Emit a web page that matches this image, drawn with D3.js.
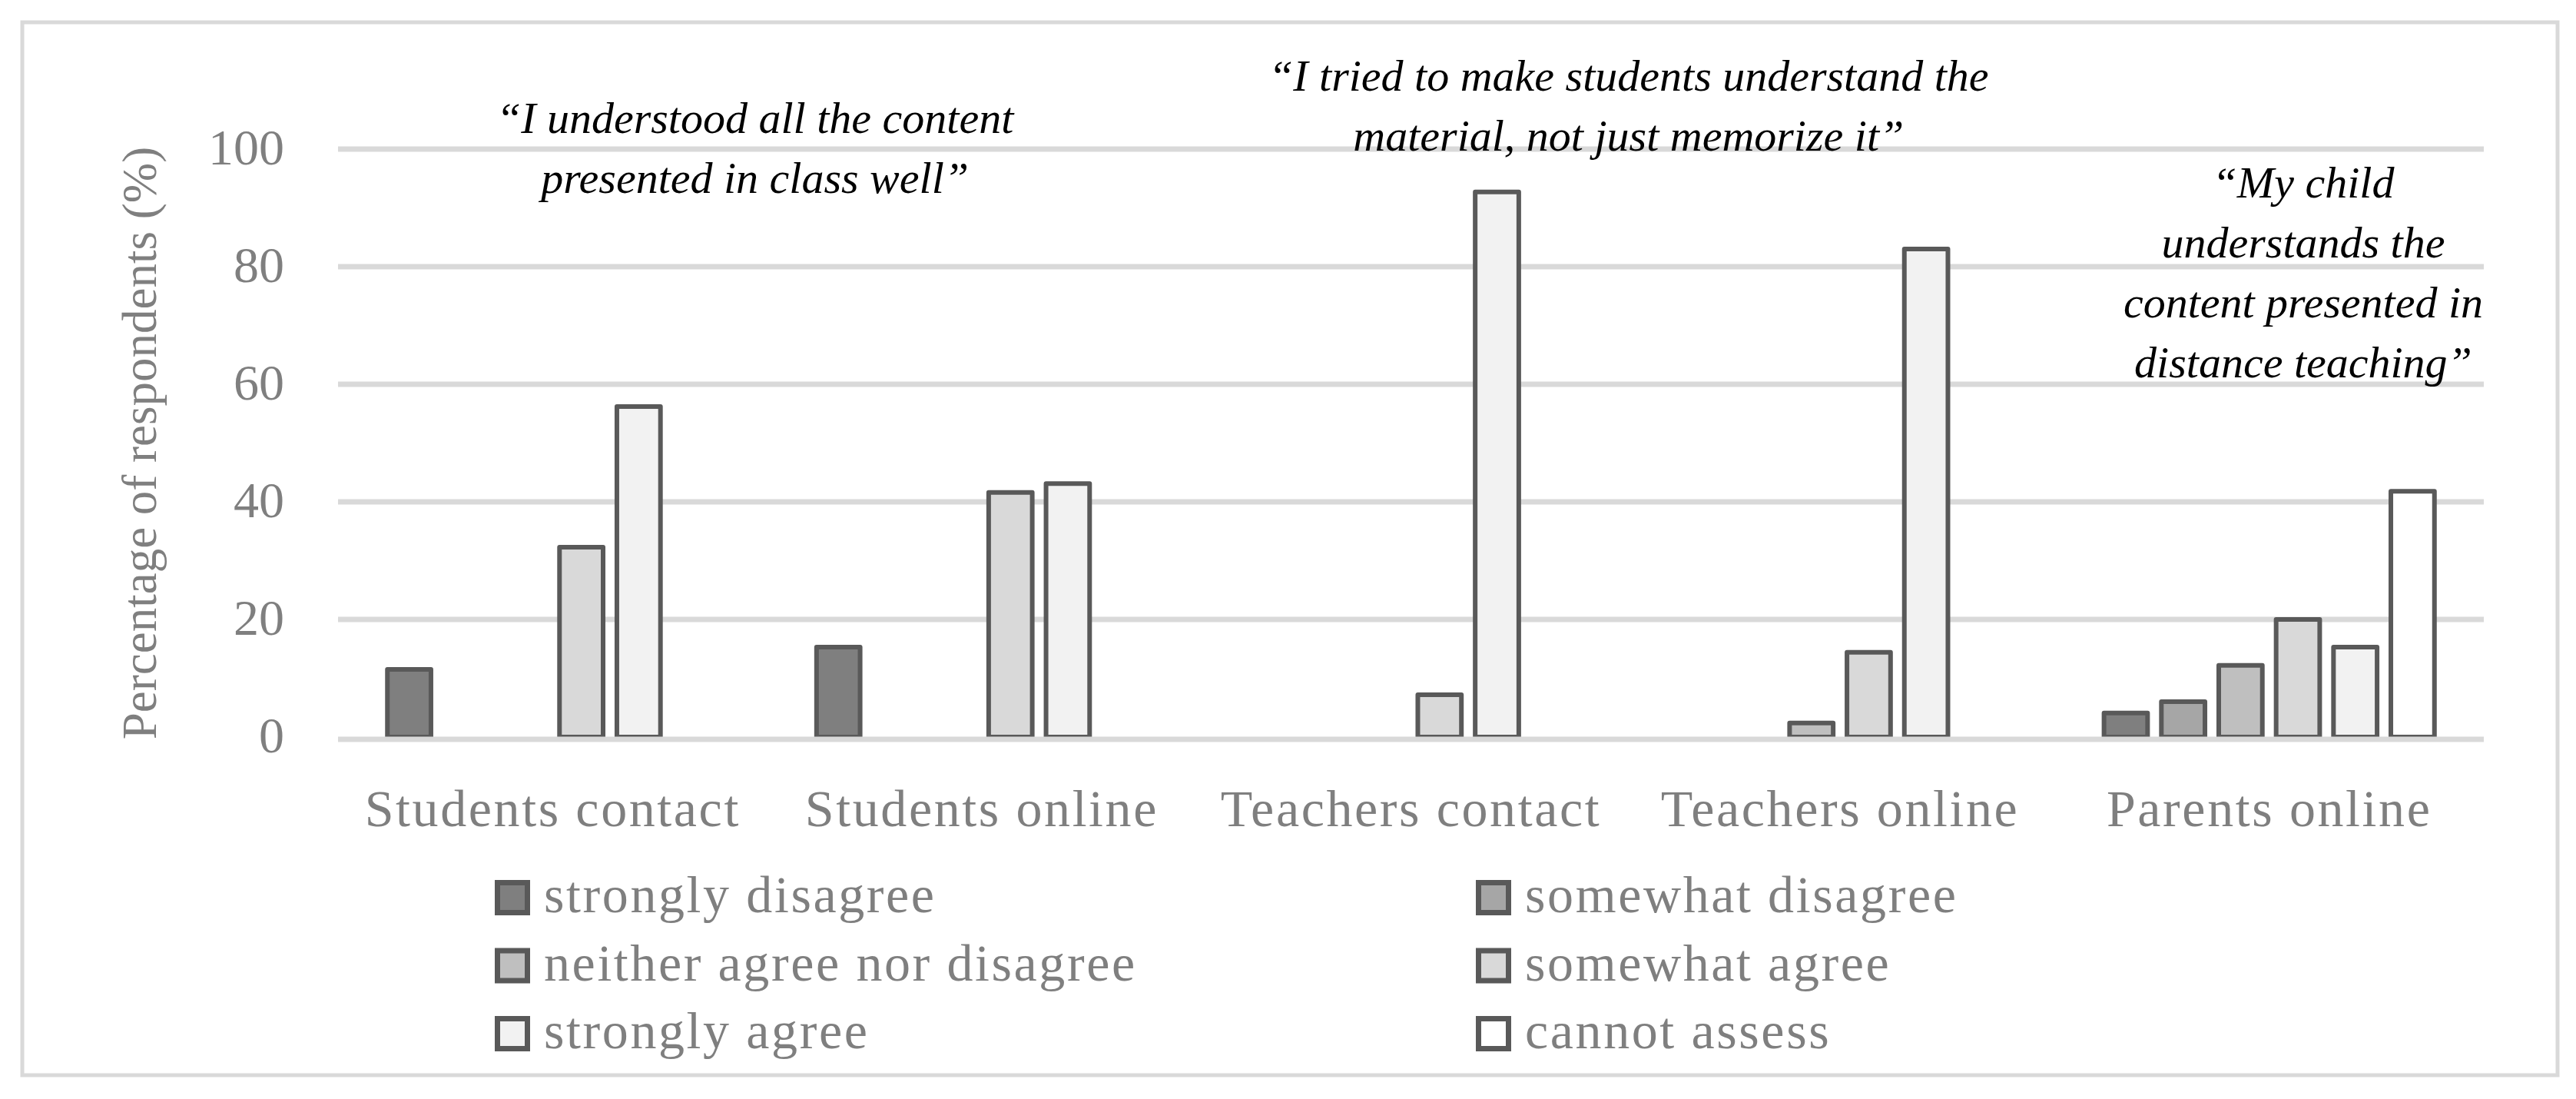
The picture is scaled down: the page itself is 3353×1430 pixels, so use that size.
<!DOCTYPE html>
<html>
<head>
<meta charset="utf-8">
<title>Understanding of content</title>
<script src="https://cdn.jsdelivr.net/npm/d3@7"></script>
<style>
	body { margin: 0; background: #fff; }
	.gray { fill: #7f7f7f; font-family: "Liberation Serif", serif; }
	.wide { letter-spacing: 2.6px; }
	.quote { fill: #000; font-family: "Liberation Serif", serif; font-style: italic; font-size: 58px; }
</style>
</head>
<body>
<script>
//chart data
var groups = ["Students contact", "Students online", "Teachers contact", "Teachers online", "Parents online"];
var answers = ["strongly disagree", "somewhat disagree", "neither agree nor disagree", "somewhat agree", "strongly agree", "cannot assess"];
var stronglyDisagree = [11.5, 15.3, 0, 0, 4.1];
var somewhatDisagree = [0, 0, 0, 0, 6.0];
var neitherAgree = [0, 0, 0, 2.4, 12.2];
var somewhatAgree = [32.3, 41.6, 7.2, 14.4, 20.0];
var stronglyAgree = [56.2, 43.1, 92.7, 83.0, 15.3];
var cannotAssess = [0, 0, 0, 0, 41.8];
var yTicks = [0, 20, 40, 60, 80, 100];
var quotes = [
	["\u201CI understood all the content", "presented in class well\u201D"],
	["\u201CI tried to make students understand the", "material, not just memorize it\u201D"],
	["\u201CMy child", "understands the", "content presented in", "distance teaching\u201D"]
];

window.onload = function(){
	var w = 3353, h = 1430;
	var seriesValues = [stronglyDisagree, somewhatDisagree, neitherAgree, somewhatAgree, stronglyAgree, cannotAssess];
	var fills = ["#7f7f7f", "#a6a6a6", "#bfbfbf", "#d9d9d9", "#f2f2f2", "#ffffff"];

	var svg = d3.select("body")
		.append("svg")
		.attr("width", w)
		.attr("height", h);

	//outer frame
	svg.append("rect")
		.attr("x", 29).attr("y", 29)
		.attr("width", 3300).attr("height", 1370)
		.style("fill", "#fff")
		.style("stroke", "#d9d9d9")
		.style("stroke-width", 5);

	//scales
	var x0 = d3.scaleBand()
		.domain(groups)
		.range([440, 3233]);
	var x1 = d3.scaleBand()
		.domain(answers)
		.range([0, x0.bandwidth()])
		.paddingInner(0.16)
		.paddingOuter(0.82);
	var y = d3.scaleLinear()
		.domain([0, 100])
		.range([959, 194]);

	//gridlines (all but zero, which goes over the bars)
	svg.selectAll(".grid")
		.data(yTicks.filter(function(d){ return d > 0; }))
		.enter()
		.append("line")
		.attr("class", "grid")
		.attr("x1", 440).attr("x2", 3233)
		.attr("y1", function(d){ return y(d); })
		.attr("y2", function(d){ return y(d); })
		.style("stroke", "#d9d9d9")
		.style("stroke-width", 7);

	//y axis labels
	var yAxis = d3.axisLeft(y).tickValues(yTicks).tickSize(0).tickPadding(0);
	var axis = svg.append("g")
		.attr("transform", "translate(370,0)")
		.call(yAxis);
	axis.select(".domain").remove();
	axis.selectAll("text")
		.attr("class", "gray")
		.attr("dy", "0.3em")
		.style("font-size", "66px");

	//y axis title
	svg.append("text")
		.attr("class", "gray")
		.attr("text-anchor", "middle")
		.attr("transform", "translate(203," + ((y(0) + y(100)) / 2) + ") rotate(-90)")
		.style("font-size", "63px")
		.text("Percentage of respondents (%)");

	//bars, one rect per non-zero answer share
	var cells = [];
	seriesValues.forEach(function(vals, s){
		vals.forEach(function(v, g){
			if (v > 0) cells.push({group: groups[g], answer: answers[s], value: v, fill: fills[s]});
		});
	});
	svg.selectAll(".bar")
		.data(cells)
		.enter()
		.append("rect")
		.attr("class", "bar")
		.attr("x", function(d){ return x0(d.group) + x1(d.answer) + 3; })
		.attr("width", x1.bandwidth() - 6)
		.attr("y", function(d){ return y(d.value); })
		.attr("height", function(d){ return y(0) - y(d.value); })
		.style("fill", function(d){ return d.fill; })
		.style("stroke", "#595959")
		.style("stroke-width", 6)
		.style("stroke-linejoin", "round");

	//zero line on top of the bars
	svg.append("line")
		.attr("x1", 440).attr("x2", 3233)
		.attr("y1", y(0) + 3).attr("y2", y(0) + 3)
		.style("stroke", "#d9d9d9")
		.style("stroke-width", 7);

	//category labels
	svg.selectAll(".catLabel")
		.data(groups)
		.enter()
		.append("text")
		.attr("class", "gray wide")
		.attr("text-anchor", "middle")
		.attr("x", function(d){ return x0(d) + x0.bandwidth() / 2; })
		.attr("y", 1075)
		.style("font-size", "68px")
		.text(function(d){ return d; });

	//legend, two columns by three rows
	var legend = svg.selectAll(".legend")
		.data(answers)
		.enter()
		.append("g")
		.attr("class", "legend")
		.attr("transform", function(d, i){
			var col = i % 2, row = Math.floor(i / 2);
			return "translate(" + (644 + col * 1277) + "," + (1145 + row * 88.5) + ")";
		});
	legend.append("rect")
		.attr("x", 3.5).attr("y", 3.5)
		.attr("width", 39).attr("height", 39)
		.style("fill", function(d, i){ return fills[i]; })
		.style("stroke", "#595959")
		.style("stroke-width", 7);
	legend.append("text")
		.attr("class", "gray wide")
		.attr("x", 64)
		.attr("y", 42)
		.style("font-size", "68px")
		.text(function(d){ return d; });

	//quoted statements
	var quotePos = [
		{x: x0(groups[1]) - 16, y: 173},
		{x: x0(groups[3]) + 4, y: 118},
		{x: 2998, y: 257}
	];
	quotes.forEach(function(lines, q){
		var t = svg.append("text")
			.attr("class", "quote")
			.attr("text-anchor", "middle")
			.attr("y", quotePos[q].y);
		t.selectAll("tspan")
			.data(lines)
			.enter()
			.append("tspan")
			.attr("x", quotePos[q].x)
			.attr("dy", function(d, i){ return i === 0 ? 0 : 78; })
			.text(function(d){ return d; });
	});
};
</script>
</body>
</html>
